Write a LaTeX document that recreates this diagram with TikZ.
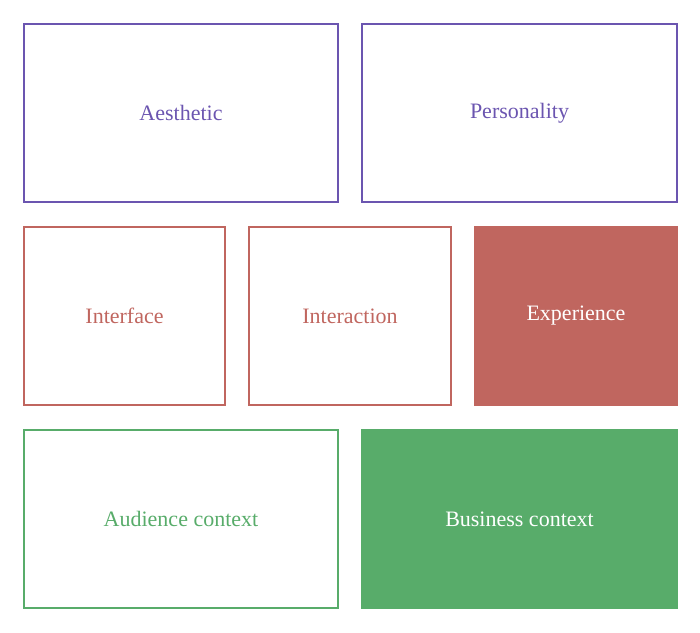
\documentclass[tikz,border=0pt]{standalone}
\usepackage{fontspec}
\setmainfont{Liberation Serif}
\definecolor{pur}{HTML}{6B55B0}
\definecolor{red}{HTML}{C0665F}
\definecolor{grn}{HTML}{58AC6A}
\begin{document}
\begin{tikzpicture}[x=1pt,y=-1pt,
  bx/.style={draw=#1,line width=1.8pt,text=#1,font=\fontsize{22}{26}\selectfont},
  fb/.style={draw=#1,fill=#1,line width=1.8pt,text=white,font=\fontsize{22}{26}\selectfont}]
\useasboundingbox (0,0) rectangle (700,632);
\draw[bx=pur] (24,24) rectangle node (a) {Aesthetic} (338,202);
\draw[bx=pur] (362,24) rectangle node (p) {Personality} (677,202);
\draw[bx=red] (24,227) rectangle node (i) {Interface} (225,405);
\draw[bx=red] (249,227) rectangle node (n) {Interaction} (451,405);
\draw[fb=red] (475,227) rectangle node (e) {Experience} (677,405);
\draw[bx=grn] (24,430) rectangle node (c) {Audience context} (338,608);
\draw[fb=grn] (362,430) rectangle node (b) {Business context} (677,608);
\end{tikzpicture}
\end{document}
